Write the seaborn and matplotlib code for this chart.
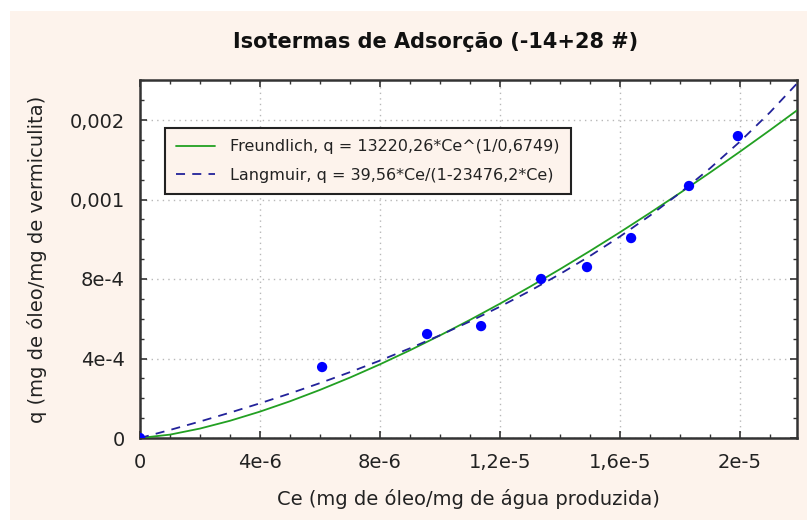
import matplotlib
matplotlib.use("Agg")
import matplotlib.pyplot as plt
from matplotlib.patches import Rectangle
from matplotlib.ticker import FixedLocator, MultipleLocator
import pandas as pd
import seaborn as sns

# ---- data ----
ce_points = [0.0, 6.07e-6, 9.57e-6, 11.37e-6, 13.37e-6, 14.9e-6, 16.37e-6, 18.3e-6, 19.93e-6]
q_points = [0.0, 3.57e-4, 5.23e-4, 5.63e-4, 8.0e-4, 8.6e-4, 1.006e-3, 1.268e-3, 1.519e-3]

ce_curve = [0, 1e-6, 2e-6, 3e-6, 4e-6, 5e-6, 6e-6, 7e-6, 8e-6, 9e-6, 10e-6, 11e-6,
            12e-6, 13e-6, 14e-6, 15e-6, 16e-6, 17e-6, 18e-6, 19e-6, 20e-6, 21e-6, 22e-6]
q_freundlich = [0, 1.70e-5, 4.75e-5, 8.67e-5, 1.328e-4, 1.848e-4, 2.421e-4, 3.041e-4,
                3.708e-4, 4.415e-4, 5.161e-4, 5.943e-4, 6.760e-4, 7.610e-4, 8.495e-4,
                9.410e-4, 1.0353e-3, 1.1327e-3, 1.2328e-3, 1.3355e-3, 1.4409e-3,
                1.549e-3, 1.6596e-3]
q_langmuir = [0, 4.051e-5, 8.302e-5, 1.2767e-4, 1.7464e-4, 2.2411e-4, 2.7628e-4,
              3.3137e-4, 3.8966e-4, 4.5142e-4, 5.1696e-4, 5.8666e-4, 6.6090e-4,
              7.4018e-4, 8.2499e-4, 9.1594e-4, 1.01374e-3, 1.11919e-3, 1.23318e-3,
              1.35688e-3, 1.49148e-3, 1.63858e-3, 1.79996e-3]

x_ticks = [0, 4e-6, 8e-6, 1.2e-5, 1.6e-5, 2e-5]
x_tick_labels = ["0", "4e-6", "8e-6", "1,2e-5", "1,6e-5", "2e-5"]
y_ticks = [0, 4e-4, 8e-4, 1.2e-3, 1.6e-3]
y_tick_labels = ["0", "4e-4", "8e-4", "0,001", "0,002"]

label_freundlich = "Freundlich, q = 13220,26*Ce^(1/0,6749)"
label_langmuir = "Langmuir, q = 39,56*Ce/(1-23476,2*Ce)"
title = "Isotermas de Adsorção (-14+28 #)"
xlabel = "Ce (mg de óleo/mg de água produzida)"
ylabel = "q (mg de óleo/mg de vermiculita)"

# ---- styling ----
sns.set_style("white")
plt.rcParams["font.family"] = ["DejaVu Sans"]

W, H = 807, 520
cream = "#fdf3ec"
fig = plt.figure(figsize=(W / 100, H / 100), dpi=100, facecolor="white")
fig.patches.append(Rectangle((10 / W, 0), 1 - 10 / W + 0.01, 1 - 11 / H,
                             transform=fig.transFigure, facecolor=cream,
                             edgecolor="none", zorder=-10))

ax = fig.add_axes([140 / W, 1 - 438 / H, (797 - 140) / W, (438 - 80) / H])
ax.set_facecolor("white")

df_curves = pd.DataFrame({"Ce": ce_curve, "Freundlich": q_freundlich, "Langmuir": q_langmuir})
df_pts = pd.DataFrame({"Ce": ce_points, "q": q_points})

sns.lineplot(data=df_curves, x="Ce", y="Freundlich", ax=ax, color="#22a022",
             linewidth=1.3, label=label_freundlich, zorder=3)
sns.lineplot(data=df_curves, x="Ce", y="Langmuir", ax=ax, color="#22229a",
             linewidth=1.3, linestyle=(0, (5, 4)), label=label_langmuir, zorder=3)
sns.scatterplot(data=df_pts, x="Ce", y="q", ax=ax, color="#0000ff", s=55,
                edgecolor="none", zorder=4, legend=False)

ax.set_xlim(0, 657 / 30 * 1e-6)
ax.set_ylim(0, 358 / 79.5 * 4e-4)

ax.xaxis.set_major_locator(FixedLocator(x_ticks))
ax.set_xticklabels(x_tick_labels)
ax.xaxis.set_minor_locator(MultipleLocator(1e-6))
ax.yaxis.set_major_locator(FixedLocator(y_ticks))
ax.set_yticklabels(y_tick_labels)
ax.yaxis.set_minor_locator(MultipleLocator(1e-4))

ax.tick_params(which="both", direction="in", top=True, right=True,
               bottom=True, left=True, color="#333333")
ax.tick_params(which="major", length=5, width=1.2, labelsize=14, pad=11,
               labelcolor="#222222")
ax.tick_params(which="minor", length=3, width=1.0)

ax.grid(True, which="major", linestyle=(0, (1, 3)), color="#b8b8b8", linewidth=1)
for s in ax.spines.values():
    s.set_visible(True)
    s.set_color("#333333")
    s.set_linewidth(1.8)

ax.set_xlabel(xlabel, fontsize=14, color="#222222", labelpad=12)
ax.set_ylabel(ylabel, fontsize=14, color="#222222", labelpad=16)

fig.text(436 / W, 1 - 42 / H, title, ha="center", va="center",
         fontsize=15, fontweight="bold", color="#111111")

leg = ax.legend(loc="upper left", bbox_to_anchor=((165 - 140) / 657, (438 - 128) / 358),
                fontsize=11.5, frameon=True, fancybox=False, facecolor=cream,
                edgecolor="#222222", framealpha=1, handlelength=2.4,
                borderpad=0.7, labelspacing=0.85, handletextpad=1.0,
                borderaxespad=0)
leg.get_frame().set_linewidth(1.5)
for t in leg.get_texts():
    t.set_color("#222222")

fig.savefig("out.png", dpi=100, facecolor=fig.get_facecolor())
